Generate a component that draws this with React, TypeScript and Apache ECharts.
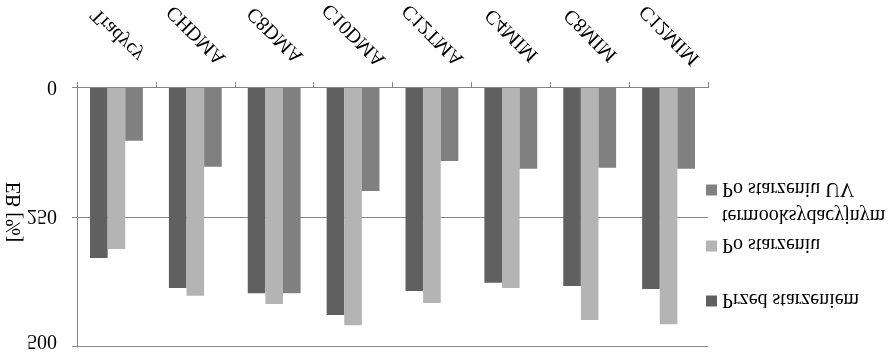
import React, { useEffect, useRef } from "react";
import * as echarts from "echarts";

const categories = ["Tradycy", "CHDMA", "C8DMA", "C10DMA", "C12TMA", "C4MIM", "C8MIM", "C12MIM"];
const seriesNames = ["Przed starzeniem", "Po starzeniu termooksydacyjnym", "Po starzeniu UV"];
const przedStarzeniem = [328, 386, 396, 438, 392, 376, 382, 388];
const poStarzeniuTermo = [311, 401, 417, 458, 415, 386, 448, 456];
const poStarzeniuUV = [102, 152, 396, 199, 141, 156, 154, 156];
const yMin = 0;
const yMax = 500;
const yInterval = 250;

const FONT = "Liberation Serif";
const AXIS = "#868686";
const COLORS = ["#606060", "#b4b4b4", "#808080"];

export default function App() {
  const ref = useRef<HTMLDivElement>(null);
  useEffect(() => {
    if (!ref.current) return;
    const chart = echarts.init(ref.current, undefined, { renderer: "svg" });
    const txt = { fontFamily: FONT, fontSize: 20, color: "#000" };
    const mkLegend = (name: string, top: number) => ({
      data: [name],
      left: 706,
      top,
      padding: 0,
      icon: "rect",
      itemWidth: 11,
      itemHeight: 11,
      textStyle: txt,
      selectedMode: false,
      formatter: (n: string) => (n === seriesNames[1] ? "Po starzeniu" : n),
    });
    chart.setOption({
      animation: false,
      backgroundColor: "#fff",
      grid: { left: 77, right: 188, top: 7, bottom: 88, containLabel: false, outerBoundsMode: "none" },
      legend: [
        mkLegend(seriesNames[0], 43),
        mkLegend(seriesNames[1], 98),
        mkLegend(seriesNames[2], 154),
      ],
      graphic: [
        {
          type: "text",
          left: 722,
          top: 127,
          style: { text: "termooksydacyjnym", font: `20px "${FONT}"`, fill: "#000" },
        },
      ],
      xAxis: {
        type: "category",
        data: categories,
        axisLine: { show: true, lineStyle: { color: AXIS, width: 1 } },
        axisTick: { show: true, length: 6, lineStyle: { color: AXIS } },
        axisLabel: {
          ...txt,
          interval: 0,
          rotate: 45,
          align: "center",
          verticalAlign: "middle",
          margin: 52,
        },
        splitLine: { show: false },
      },
      yAxis: {
        type: "value",
        min: yMin,
        max: yMax,
        interval: yInterval,
        name: "EB [%]",
        nameLocation: "middle",
        nameGap: 54,
        nameMoveOverlap: false,
        nameTextStyle: { ...txt, padding: [0, 11, 0, 0] },
        axisLine: { show: true, lineStyle: { color: AXIS, width: 1 } },
        axisTick: { show: true, length: 5, lineStyle: { color: AXIS } },
        axisLabel: {
          ...txt,
          margin: 20,
          formatter: (v: number) => (v === yMax ? `{edge|${v}}` : `${v}`),
          rich: { edge: { ...txt, padding: [10, 0, 0, 0] } },
        },
        splitLine: { show: true, lineStyle: { color: AXIS, width: 1 } },
      },
      series: [
        { name: seriesNames[0], type: "bar", data: przedStarzeniem },
        { name: seriesNames[1], type: "bar", data: poStarzeniuTermo },
        { name: seriesNames[2], type: "bar", data: poStarzeniuUV },
      ].map((s, i) => ({
        ...s,
        barGap: "0%",
        barCategoryGap: "33%",
        itemStyle: { color: COLORS[i] },
        emphasis: { disabled: true },
      })),
    });
    return () => chart.dispose();
  }, []);
  return (
    <div
      ref={ref}
      style={{
        position: "fixed",
        left: 0,
        top: 0,
        width: 896,
        height: 354,
        background: "#fff",
        transform: "scaleY(-1)",
      }}
    />
  );
}
